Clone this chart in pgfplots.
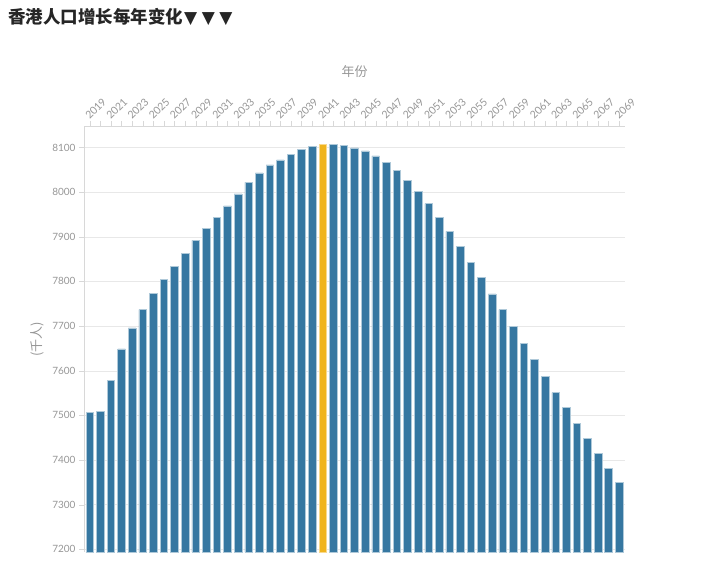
\documentclass[border=0pt]{standalone}
\usepackage{pgfplots}
\pgfplotsset{compat=1.18}
\usepackage{pgfplotstable}
\usepackage{fontspec}
\setmainfont{Lato}
\newfontfamily\cjk{Noto Sans CJK SC}
\newfontfamily\sym{DejaVu Sans}
\definecolor{barblue}{RGB}{54,119,161}
\definecolor{baryellow}{RGB}{240,180,30}
\definecolor{labgray}{RGB}{150,150,150}
\definecolor{gridgray}{RGB}{232,232,232}

% population by year (thousands), 2041 highlighted separately
\pgfplotstableread{
year pop
2019 7506
2020 7508
2021 7579
2022 7649
2023 7696
2024 7737
2025 7774
2026 7805
2027 7834
2028 7863
2029 7892
2030 7919
2031 7944
2032 7969
2033 7996
2034 8022
2035 8043
2036 8061
2037 8072
2038 8085
2039 8095
2040 8102
2042 8106
2043 8104
2044 8099
2045 8092
2046 8081
2047 8066
2048 8048
2049 8027
2050 8002
2051 7974
2052 7944
2053 7912
2054 7878
2055 7843
2056 7809
2057 7772
2058 7737
2059 7699
2060 7662
2061 7625
2062 7587
2063 7551
2064 7517
2065 7482
2066 7448
2067 7414
2068 7381
2069 7349
}\bluedata
\pgfplotstableread{
year pop
2041 8106
}\yellowdata

\begin{document}
\begin{tikzpicture}
\useasboundingbox (0,0) rectangle (712pt,-561pt);
\node[anchor=west, inner sep=0pt, text=black!85,
      font=\cjk\bfseries\fontsize{17.5}{17.5}\selectfont]
  at (8pt,-17pt) {香港人口增长每年变化\hspace{1pt}{\sym\mdseries\fontsize{17}{17}\selectfont ▼\hspace{4.5pt}▼\hspace{4.5pt}▼}};
\begin{axis}[
  at={(84pt,-552pt)}, anchor=south west,
  scale only axis, width=541pt, height=426pt,
  xmin=2018.45, xmax=2069.55, ymin=7194, ymax=8148,
  axis x line*=top, axis y line*=left,
  axis line style={gridgray!85!gray},
  tick style={gridgray!85!gray},
  tick align=outside,
  major tick length=5pt, minor tick length=5pt,
  xtick={2019,2021,...,2069},
  minor xtick={2020,2022,...,2068},
  ytick={7200,7300,...,8100},
  ymajorgrids, grid style={gridgray},
  /pgf/number format/1000 sep={},
  /pgf/number format/assume math mode=true,
  xticklabel style={rotate=45, anchor=south west, inner sep=0.5pt,
    text=labgray, font=\fontsize{10.5}{11}\selectfont},
  yticklabel style={text=labgray, font=\fontsize{10}{11}\selectfont},
  bar shift=0pt,
]
\addplot[ybar, bar width=7.6pt, fill=barblue, draw=white!60!barblue, line width=0.6pt]
  table[x=year, y=pop] {\bluedata};
\addplot[ybar, bar width=7.6pt, fill=baryellow, draw=white!50!baryellow, line width=0.6pt]
  table[x=year, y=pop] {\yellowdata};
\end{axis}
\node[text=labgray, font=\cjk\fontsize{13}{13}\selectfont] at (354.5pt,-72pt) {年份};
\node[text=labgray, rotate=90, font=\cjk\fontsize{13}{13}\selectfont] at (37pt,-339pt) {(千人)};
\end{tikzpicture}
\end{document}
